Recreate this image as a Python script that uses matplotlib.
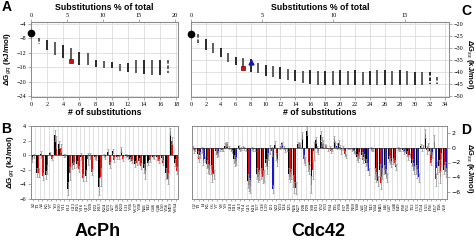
import matplotlib
matplotlib.use("Agg")
import matplotlib.pyplot as plt
import numpy as np

# ---- panel A / C : dG vs number of substitutions ----
A_n = list(range(1, 18))
A_top = [-7.9, -8.4, -9.0, -9.8, -10.7, -11.7, -12.0, -14.0, -14.2, -14.6,
         -15.1, -14.9, -14.0, -14.0, -14.0, -14.0, -14.0]
A_bot = [-9.5, -11.2, -12.6, -13.4, -14.5, -15.3, -15.3, -15.9, -16.2, -16.3,
         -17.0, -17.4, -17.6, -17.9, -18.1, -18.2, -17.6]
A_wt = (0, -6.5)
A_sq = (5, -14.3)

C_n = list(range(1, 34))
C_top = [-24.0, -26.3, -28.0, -30.0, -32.0, -33.7, -34.0, -34.5, -36.4, -37.0,
         -37.6, -38.0, -38.7, -39.0, -39.7, -39.0, -39.5, -39.5, -39.5, -39.0,
         -39.5, -39.2, -39.8, -39.5, -39.0, -39.3, -39.5, -39.0, -39.4, -39.8,
         -40.0, -40.0, -42.0]
C_bot = [-28.7, -30.8, -32.0, -33.8, -35.8, -37.0, -39.0, -40.0, -40.6, -41.5,
         -42.0, -43.0, -43.4, -43.8, -44.4, -45.0, -45.3, -45.5, -45.5, -45.3,
         -45.6, -45.4, -45.5, -45.6, -45.5, -45.4, -45.6, -45.5, -45.3, -45.5,
         -45.4, -45.0, -45.0]
C_wt = (0, -24.2)
C_sq = (7, -38.2)
C_tri = (8, -35.8)

# ---- panel B : AcPh single mutants ----
B_labels = ["S2", "T3", "A4", "K5", "V7", "Y9", "E10", "V11", "F12", "G13",
            "R15", "V16", "Q17", "V20", "F22", "R23", "K24", "Y25", "A27", "E28",
            "K30", "L31", "V36", "W37", "V38", "N41", "T42", "G46", "Q48", "L50",
            "V56", "M59", "W64"]
B_black = [-0.6, -2.4, 0.1, -2.7, 0.3, 2.7, 1.5, -0.1, -4.6, -1.5,
           -1.2, -0.2, -2.8, -0.1, -0.3, -4.3, 0.0, 0.4, 0.6, -0.3,
           0.8, -0.1, -0.5, -1.2, -0.8, -1.8, -1.1, -0.2, -0.3, -0.4,
           -2.5, 3.2, -1.0]
B_red = [-0.1, -2.4, -2.9, -2.0, -0.5, 1.8, 1.0, 0.0, -2.5, -1.3,
         -1.9, -3.1, -0.5, -2.3, -0.5, -3.0, -0.3, -1.3, -0.6, -0.3,
         -0.5, -0.3, -0.8, -1.0, -1.5, -2.6, -0.6, -0.3, -0.8, -1.0,
         -3.2, 2.0, -2.1]
B_err = [0.3, 0.6, 0.5, 0.6, 0.2, 0.8, 0.5, 0.2, 0.9, 0.4,
         0.4, 0.5, 0.8, 0.4, 0.2, 1.2, 0.2, 0.4, 0.3, 0.2,
         0.3, 0.2, 0.3, 0.4, 0.4, 0.6, 0.3, 0.2, 0.3, 0.3,
         0.7, 0.5, 0.5]

# ---- panel D : Cdc42 single mutants ----
D_labels = ["Q2", "T3", "I4", "K5", "C6", "V7", "V8", "V9", "G10", "D11",
            "A13", "V14", "G15", "K16", "T17", "C18", "L19", "I21", "S22", "Y23",
            "T24", "T25", "N26", "K27", "F28", "P29", "S30", "E31", "Y32", "V33",
            "P34", "T35", "V36", "F37", "D38", "N39", "Y40", "A41", "V42", "T43",
            "V44", "M45", "I46", "G47", "G48", "E49", "P50", "Y51", "T52", "L53",
            "G54", "L55", "F56", "D57", "T58", "A59"]
D_black = [0.0, -0.8, -0.3, -2.2, -3.0, -0.5, -0.2, 0.3, 0.0, -1.5,
           0.2, 0.1, -4.5, -0.1, -3.5, -3.5, -2.0, -0.2, 0.4, 0.0,
           0.0, -3.5, -4.5, 0.5, 1.7, 2.3, -5.0, 1.0, 1.7, 0.3,
           0.0, 1.2, 0.7, 0.0, -0.1, -0.3, -1.2, -1.0, -2.0, -0.1,
           -3.5, -3.0, -3.0, -1.5, -1.8, -0.1, -0.3, -0.8, -2.0, -3.0,
           0.3, 1.9, -0.5, 0.8, -2.5, -3.0]
D_red = [-0.5, -1.5, -2.0, -2.8, -4.0, -1.0, -0.3, 0.5, -0.2, -2.0,
         -0.3, -0.1, -5.0, -0.3, -4.0, -4.0, -3.0, -0.5, -1.2, 0.3,
         -0.4, -4.0, -5.4, 0.5, -1.5, -2.5, -3.0, -0.2, 0.8, 0.2,
         -0.5, 0.5, 0.1, -0.8, -0.1, -0.5, -1.5, -1.6, -2.5, -0.3,
         -4.0, -4.8, -3.5, -1.8, -2.0, -0.3, -0.6, -1.3, -2.5, -3.5,
         -0.2, -0.3, -2.0, -4.3, -4.0, -2.5]
D_blue = [-0.3, -1.0, -1.5, -3.0, -3.6, -0.8, -0.3, 0.5, -0.5, -1.8,
          -0.1, -0.2, -5.3, -0.2, -3.7, -3.8, -1.2, -5.6, -2.0, 0.6,
          -0.2, -3.6, -5.5, 0.4, -1.8, -3.0, -0.4, -0.5, 0.5, -0.2,
          -0.3, 0.2, -0.5, -1.1, -0.1, -0.7, -1.0, -1.3, -3.2, -0.2,
          -4.5, -3.5, -4.0, -2.2, -2.6, -0.2, -0.4, -1.0, -3.0, -4.0,
          0.2, 0.1, -1.0, -2.7, -1.5, -3.3]
D_err = [0.2, 0.4, 0.4, 0.6, 0.6, 0.3, 0.2, 0.3, 0.2, 0.5,
         0.2, 0.2, 0.9, 0.2, 0.7, 0.8, 0.5, 0.6, 0.5, 0.2,
         0.2, 0.7, 0.8, 0.3, 0.5, 0.6, 1.2, 0.4, 0.6, 0.2,
         0.2, 0.4, 0.3, 0.3, 0.1, 0.2, 0.4, 0.4, 0.5, 0.2,
         0.7, 0.8, 0.6, 0.4, 0.4, 0.2, 0.2, 0.3, 0.5, 0.6,
         0.2, 0.6, 0.4, 0.9, 0.8, 0.6]

SERIF = "Liberation Serif"
SANS = "Liberation Sans"
GRID = "#dcdcdc"
SPINE = "#8a8a8a"

fig = plt.figure(figsize=(4.75, 2.4), dpi=100)


def rect(l, t, r, b):
    return [l / 475, 1 - b / 240, (r - l) / 475, (b - t) / 240]


def style(ax):
    for s in ax.spines.values():
        s.set_color(SPINE)
        s.set_linewidth(0.7)
    ax.tick_params(length=2, width=0.5, color=SPINE, labelsize=4.5, pad=1.5)
    for lab in ax.get_xticklabels() + ax.get_yticklabels():
        lab.set_fontfamily(SERIF)


def scan_panel(ax, n, top, bot, wt, sq, xmax, ylim, yticks, total, pticks):
    ax.set_xlim(0, xmax)
    ax.set_ylim(*ylim)
    ax.set_xticks(np.arange(0, int(xmax) + 1, 2))
    ax.set_yticks(yticks)
    ax.grid(True, color=GRID, lw=0.6)
    ax.set_axisbelow(True)
    for i, (x, t, b) in enumerate(zip(n, top, bot)):
        dashed = i == 0 or i >= len(n) - 2 and len(n) > 20 or (len(n) < 20 and i == len(n) - 1)
        col = "#1a1a1a" if i % 2 else "#505050"
        ax.plot([x, x], [t, b], color=col, lw=1.3,
                ls=(0, (2, 1)) if dashed else "-", solid_capstyle="butt")
    ax.plot(*wt, "o", color="black", ms=4.5, clip_on=False, zorder=5)
    ax.plot(*sq, "s", color="#d01010", mec="#700000", mew=0.5, ms=3.5, zorder=5)
    sec = ax.secondary_xaxis("top", functions=(lambda v: v * 100 / total,
                                               lambda p: p * total / 100))
    sec.set_xticks(pticks)
    sec.tick_params(length=2, width=0.5, color=SPINE, labelsize=4.5, pad=1)
    for lab in sec.get_xticklabels():
        lab.set_fontfamily(SERIF)
    sec.spines["top"].set_color(SPINE)
    sec.set_xlabel("Substitutions % of total", fontsize=6.3, fontweight="bold",
                   family=SANS, labelpad=2)
    ax.set_xlabel("# of substitutions", fontsize=6.3, fontweight="bold",
                  family=SANS, labelpad=1)
    style(ax)


axA = fig.add_axes(rect(31, 22, 178, 97))
scan_panel(axA, A_n, A_top, A_bot, A_wt, A_sq, 18.2, (-24.3, -3.45),
           np.arange(-24, -3, 4), 89, [0, 5, 10, 15, 20])
axA.set_ylabel("ΔG$_{gq}$ (kJ/mol)", fontsize=5.8, fontweight="bold", family=SANS,
               labelpad=2)

axC = fig.add_axes(rect(191, 22, 449, 97))
scan_panel(axC, C_n, C_top, C_bot, C_wt, C_sq, 34.6, (-50.4, -19.2),
           np.arange(-50, -19, 5), 191, [0, 5, 10, 15])
axC.plot(*C_tri, "^", color="#1a1ab0", ms=3.5, zorder=5)
axC.yaxis.tick_right()
axC.yaxis.set_label_position("right")
axC.set_ylabel("ΔG$_{ss}$ (kJ/mol)", fontsize=5.5, fontweight="bold", family=SANS,
               rotation=270, va="center")
axC.yaxis.set_label_coords((469 - 191) / 258, 0.44)
style(axC)


def bar_panel(ax, labels, series, colors, err, ylim, yticks):
    k = len(labels)
    x = np.arange(k)
    m = len(series)
    w = 0.8 / m
    ax.set_xlim(-0.5, k - 0.5)
    ax.set_ylim(*ylim)
    ax.set_xticks(np.arange(k + 1) - 0.5, minor=True)
    ax.grid(True, which="minor", axis="x", color=GRID, lw=0.6)
    ax.set_axisbelow(True)
    for j, (vals, c) in enumerate(zip(series, colors)):
        off = (j - (m - 1) / 2) * w
        ax.bar(x + off, vals, width=w, color=c, lw=0,
               yerr=err, ecolor="#9a9a9a", error_kw=dict(lw=0.6, capsize=0.8, capthick=0.5))
    ax.axhline(0, color="#333333", lw=0.5)
    ax.set_xticks(x)
    ax.set_xticklabels(labels, rotation=90, fontsize=3.4, family=SERIF)
    ax.set_yticks(yticks)
    style(ax)
    ax.tick_params(axis="x", length=1.5, labelsize=3.4, pad=1)
    ax.tick_params(which="minor", length=0)


axB = fig.add_axes(rect(31, 126, 178, 199))
bar_panel(axB, B_labels, [B_black, B_red], ["black", "#e01010"], B_err,
          (-6, 4), [-6, -4, -2, 0, 2, 4])
axB.set_ylabel("ΔG$_{gq}$ (kJ/mol)", fontsize=5.8, fontweight="bold", family=SANS,
               labelpad=2)

axD = fig.add_axes(rect(192, 126, 447, 199))
bar_panel(axD, D_labels, [D_black, D_red, D_blue], ["black", "#d81010", "#1818c8"],
          D_err, (-6.95, 2.95), [-6, -4, -2, 0, 2])
axD.yaxis.tick_right()
axD.yaxis.set_label_position("right")
axD.set_ylabel("ΔG$_{ss}$ (kJ/mol)", fontsize=5.5, fontweight="bold", family=SANS,
               rotation=270, va="center")
axD.yaxis.set_label_coords((469 - 192) / 255, 0.42)

for ch, (px, py) in zip("ABCD", [(7, 7), (6, 129), (466, 11), (466, 130)]):
    fig.text(px / 475, 1 - py / 240, ch, fontsize=10, fontweight="bold",
             family=SANS, ha="center", va="center")
fig.text(98 / 475, 1 - 232 / 240, "AcPh", fontsize=13, fontweight="bold",
         family=SANS, ha="center", va="center")
fig.text(318 / 475, 1 - 232 / 240, "Cdc42", fontsize=13, fontweight="bold",
         family=SANS, ha="center", va="center")

fig.savefig("out.png", dpi=100)
